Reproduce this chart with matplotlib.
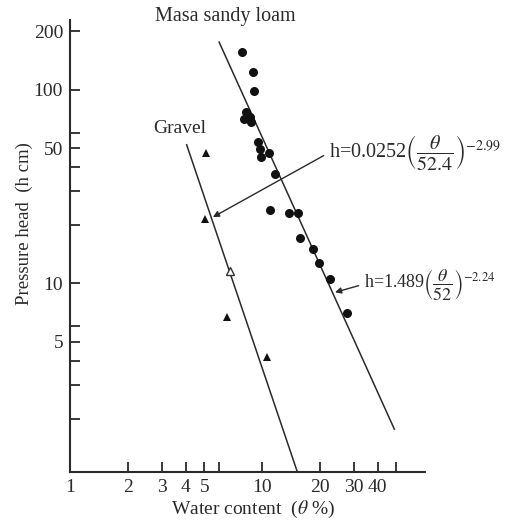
import matplotlib
matplotlib.use("Agg")
import matplotlib.pyplot as plt

# Masa sandy loam (filled circles): water content (%) vs pressure head (cm)
masa_theta = [7.83, 9.0, 9.05, 8.25, 8.08, 8.69, 8.76, 9.49, 9.77, 9.88, 10.84,
              11.74, 11.0, 13.9, 15.4, 15.7, 18.4, 19.7, 22.7, 27.8]
masa_h = [156, 123, 98.9, 76.7, 70.9, 72.3, 68.2, 53.7, 49.6, 45.0, 47.3,
          36.6, 23.9, 23.2, 23.0, 17.1, 15.1, 12.8, 10.6, 7.0]

# Gravel (triangles)
gravel_theta = [5.09, 5.03, 6.61, 10.6]
gravel_h = [47.2, 21.4, 6.73, 4.19]
gravel_open_theta = [6.82]
gravel_open_h = [11.6]

# fitted lines, end points
masa_fit_theta = [5.98, 48.9]
masa_fit_h = [176, 1.77]
gravel_fit_theta = [4.05, 15.25]
gravel_fit_h = [52.0, 1.07]

x_ticks = [1, 2, 3, 4, 5, 6, 10, 20, 30, 40, 50]
x_tick_labels = ['1', '2', '3', '4', '5', '', '10', '20', '30', '40', '']
y_ticks = [2, 3, 4, 5, 6, 10, 20, 30, 40, 50, 60, 100, 200]
y_tick_labels = ['', '', '', '5', '', '10', '', '', '', '50', '', '100', '200']

plt.rcParams['font.family'] = ['Liberation Serif', 'DejaVu Serif']
plt.rcParams['mathtext.fontset'] = 'stix'

ink = '#2a2a2a'

fig = plt.figure(figsize=(5.14, 5.21), dpi=100)
ax = fig.add_axes([0.1362, 0.0935, 0.6906, 0.8681])

ax.set_xscale('log')
ax.set_yscale('log')
ax.set_xlim(1, 70.6)
ax.set_ylim(1.06, 229)

ax.plot(masa_fit_theta, masa_fit_h, color=ink, lw=1.1)
ax.plot(gravel_fit_theta, gravel_fit_h, color=ink, lw=1.1)
ax.plot(masa_theta, masa_h, 'o', color='#111111', ms=6.5, mew=0)
ax.plot(gravel_theta, gravel_h, '^', color='#111111', ms=6, mew=0)
ax.plot(gravel_open_theta, gravel_open_h, '^', mfc='white', mec='#333333', ms=6, mew=1)

ax.minorticks_off()
ax.set_xticks(x_ticks, x_tick_labels)
ax.set_yticks(y_ticks, y_tick_labels)
ax.tick_params(direction='in', length=7, width=1.3, color=ink, labelsize=14,
               labelcolor=ink, pad=5)

for s in ['top', 'right']:
    ax.spines[s].set_visible(False)
for s in ['left', 'bottom']:
    ax.spines[s].set_linewidth(1.5)
    ax.spines[s].set_color(ink)

ax.set_xlabel(r'Water content  ($\theta$ %)', fontsize=14, color=ink)
ax.xaxis.set_label_coords(0.515, -0.058)
ax.set_ylabel('Pressure head  (h cm)', fontsize=13.5, color=ink)
ax.yaxis.set_label_coords(-0.105, 0.549)

fig.text(155 / 514, 1 - 17 / 521, 'Masa sandy loam', fontsize=14.5,
         color=ink, ha='left', va='center')
ax.text(2.7, 63, 'Gravel', fontsize=14, color=ink, ha='left', va='center')

arrow = dict(arrowstyle='-|>', color=ink, lw=1.0, mutation_scale=9,
             shrinkA=2, shrinkB=0, relpos=(0, 0.5))
ax.annotate('h=0.0252' + r'$\left(\dfrac{\theta}{52.4}\right)^{-2.99}$',
            xy=(5.55, 22), xytext=(22.3, 47.3), fontsize=14.5, color=ink,
            ha='left', va='center', arrowprops=arrow)
ax.annotate('h=1.489' + r'$\left(\dfrac{\theta}{52}\right)^{-2.24}$',
            xy=(24.0, 9.0), xytext=(34.0, 9.92), fontsize=13, color=ink,
            ha='left', va='center', arrowprops=arrow, annotation_clip=False)

fig.savefig('out.png', dpi=100)
